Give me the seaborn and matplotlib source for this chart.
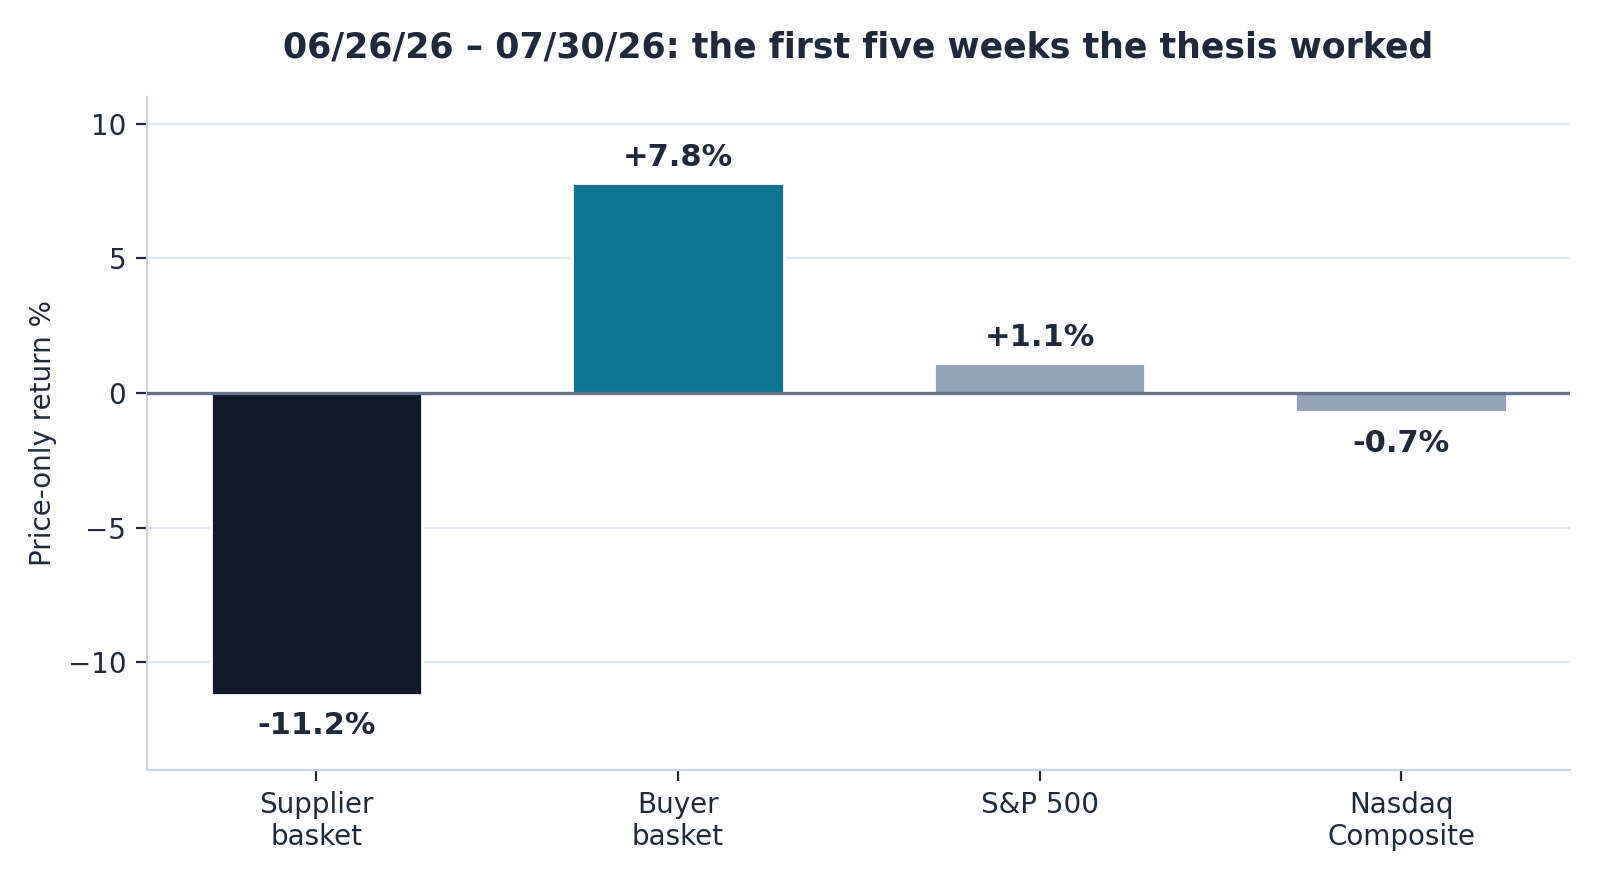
import matplotlib
matplotlib.use("Agg")
import matplotlib.pyplot as plt
import seaborn as sns
import pandas as pd

# values
categories = ["Supplier\nbasket", "Buyer\nbasket", "S&P 500", "Nasdaq\nComposite"]
returns = [-11.2, 7.8, 1.1, -0.7]
labels = ["-11.2%", "+7.8%", "+1.1%", "-0.7%"]
colors = ["#111827", "#0f7490", "#94a3b8", "#94a3b8"]

text_col = "#1e293b"

df = pd.DataFrame({"category": categories, "ret": returns})

sns.set_theme(style="white")
plt.rcParams["font.family"] = ["DejaVu Sans"]

fig = plt.figure(figsize=(8, 4.4), dpi=200)
ax = fig.add_axes([0.092, 0.125, 0.889, 0.765])

sns.barplot(data=df, x="category", y="ret", hue="category",
            palette=dict(zip(categories, colors)), width=0.585,
            saturation=1, legend=False, ax=ax, zorder=3)

ax.set_ylim(-14, 11)
ax.set_xlim(-0.468, 3.466)
ax.set_yticks([-10, -5, 0, 5, 10])
ax.grid(axis="y", color="#e2e8f0", linewidth=0.8, zorder=0)
ax.axhline(0, color="#64748b", linewidth=1.2, zorder=4)

# value labels above / below each bar
for i, (v, lab) in enumerate(zip(returns, labels)):
    off = 4 if v >= 0 else -6
    ax.annotate(lab, (i, v), xytext=(0, off), textcoords="offset points",
                ha="center", va="bottom" if v >= 0 else "top",
                fontsize=11, fontweight="bold", color=text_col)

sns.despine(ax=ax)
for s in ["left", "bottom"]:
    ax.spines[s].set_color("#cbd5e1")
    ax.spines[s].set_linewidth(0.8)

ax.tick_params(axis="both", colors=text_col, labelsize=10, length=4,
               width=0.8, direction="out", left=True, bottom=True)
ax.set_xlabel("")
ax.set_ylabel("Price-only return %", fontsize=10, color=text_col)
ax.set_title("06/26/26 – 07/30/26: the first five weeks the thesis worked",
             fontsize=12.5, fontweight="bold", color=text_col, pad=14)

fig.savefig("out.png", dpi=200, facecolor="white")
